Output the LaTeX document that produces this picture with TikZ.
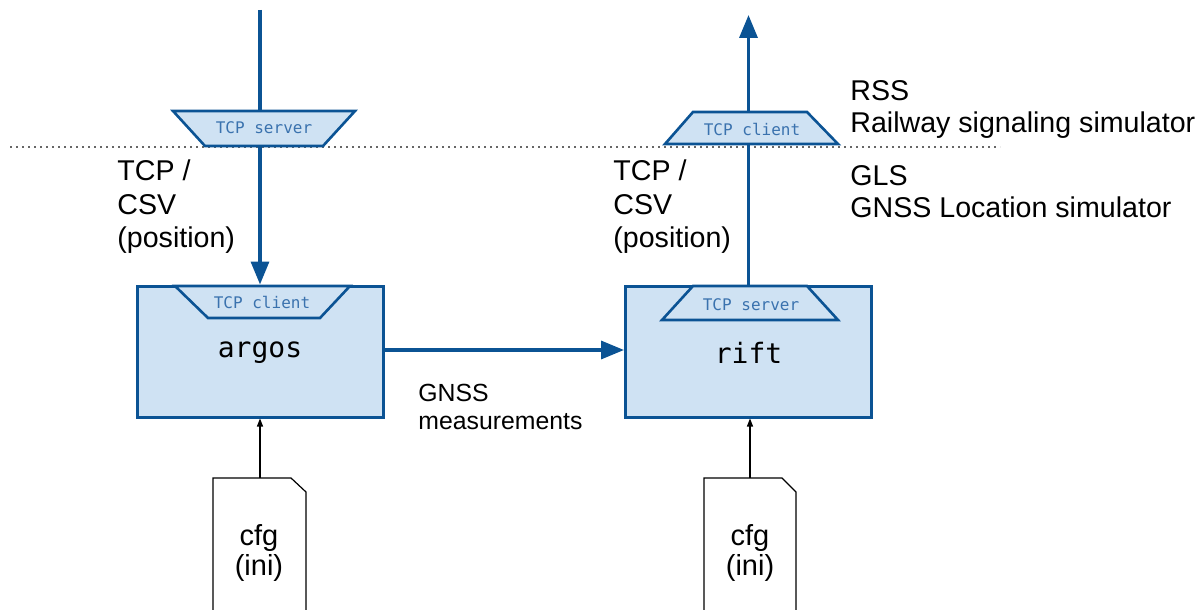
\documentclass[tikz,border=0pt]{standalone}
\usepackage{fontspec}
\setmainfont{Liberation Sans}
\newfontfamily\monof{DejaVu Sans Mono}
\usetikzlibrary{arrows.meta}
\definecolor{dblue}{HTML}{0B5394}
\definecolor{lblue}{HTML}{CFE2F3}
\definecolor{tblue}{HTML}{3A72AE}
\tikzset{
  procbox/.style={draw=dblue, fill=lblue, line width=1.5pt, minimum width=123pt, minimum height=65.5pt, inner sep=0pt},
  trap/.style={draw=dblue, fill=lblue, line width=1.3pt, line join=miter},
  traptext/.style={font=\monof\fontsize{8}{9}\selectfont, text=tblue, inner sep=0pt},
  proctext/.style={font=\monof\fontsize{14}{16}\selectfont, inner sep=0pt},
  flow/.style={draw=dblue, line width=1.7pt, -{Triangle[length=11.5pt,width=9pt]}},
  cfgarrow/.style={draw=black, line width=0.6pt, -{Triangle[length=4pt,width=3pt]}},
  filebox/.style={draw=black, fill=white, line width=0.6pt},
  lbl/.style={font=\fontsize{14.3}{16}\selectfont, anchor=west, inner sep=0pt},
  smalllbl/.style={font=\fontsize{12.4}{14}\selectfont, anchor=west, inner sep=0pt},
  filetext/.style={font=\fontsize{14.5}{17}\selectfont, align=center, inner sep=0pt}
}
\begin{document}
\begin{tikzpicture}[x=0.5pt,y=-0.5pt]
\useasboundingbox (0,0) rectangle (1200,610);

% dotted separator
\draw[black!60, line width=0.6pt, dash pattern=on 1.2pt off 1.8pt] (10,147) -- (1000,147);

% process boxes
\node[procbox] (argos) at (260,351.5) {};
\node[procbox] (rift) at (748.5,351.5) {};
\node[proctext] (argosT) at (260,353) {argos};
\node[proctext] (riftT) at (748.5,353) {rift};

% free ends
\coordinate (inTop) at (260,10);
\coordinate (outTop) at (748.5,15);

% main flows
\draw[flow] (inTop) -- (argos.north);
\draw[flow] (rift.north) -- (outTop);
\draw[flow] (argos.east |- 0,350) -- (rift.west |- 0,350);

% trapezoids
\draw[trap] (173,111) -- (355,111) -- (323,146) -- (205,146) -- cycle;
\node[traptext] (srvL) at (264,128) {TCP server};
\draw[trap] (693,112) -- (807,112) -- (838,144) -- (665,144) -- cycle;
\node[traptext] (cliR) at (752,129) {TCP client};
\draw[trap] (175,286) -- (350,286) -- (320,318) -- (208,318) -- cycle;
\node[traptext] (cliL) at (262,302) {TCP client};
\draw[trap] (693,286) -- (807,286) -- (838,320) -- (662,320) -- cycle;
\node[traptext] (srvR) at (751,305) {TCP server};

% labels
\node[lbl] (l1) at (117,170) {TCP /};
\node[lbl] (l2) at (117,205) {CSV};
\node[lbl] (l3) at (117,240) {(position)};
\node[lbl] (r1) at (613,170) {TCP /};
\node[lbl] (r2) at (613,205) {CSV};
\node[lbl] (r3) at (613,240) {(position)};
\node[lbl] (rss) at (850,91) {RSS};
\node[lbl] (rsst) at (850,125) {Railway signaling simulator};
\node[lbl] (gls) at (850,176) {GLS};
\node[lbl] (glst) at (850,207) {GNSS Location simulator};
\node[smalllbl] (g1) at (418,393) {GNSS};
\node[smalllbl] (g2) at (418,422) {measurements};

% config files
\draw[filebox] (213,612) -- (213,478) -- (291,478) -- (306,492) -- (306,612);
\coordinate (fileA) at (260,478);
\node[filetext] (cfgA) at (259,553) {cfg\\[-2pt](ini)};
\draw[filebox] (704,612) -- (704,478) -- (782,478) -- (796,492) -- (796,612);
\coordinate (fileB) at (750,478);
\node[filetext] (cfgB) at (750,553) {cfg\\[-2pt](ini)};

\draw[cfgarrow] (fileA) -- (argos.south);
\draw[cfgarrow] (fileB) -- (rift.south -| fileB);
\end{tikzpicture}
\end{document}
